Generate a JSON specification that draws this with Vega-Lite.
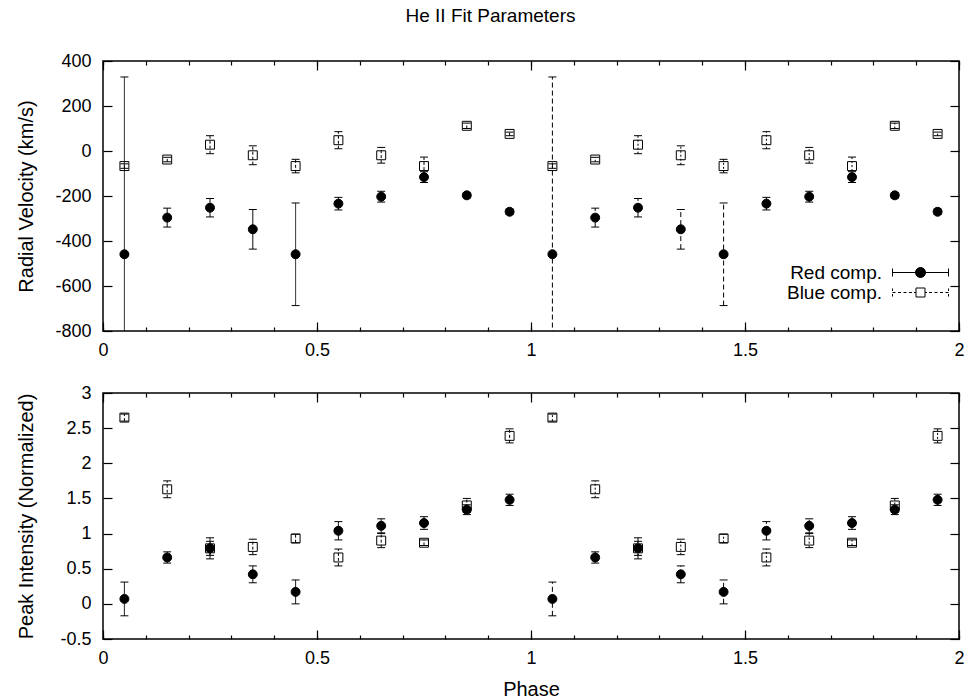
{
  "$schema": "https://vega.github.io/schema/vega-lite/v6.json",
  "background": "white",
  "padding": {"left": 16, "top": 7, "right": 5, "bottom": 5},
  "title": {"text": "He II Fit Parameters", "fontSize": 19, "fontWeight": "normal", "font": "Liberation Sans", "color": "black", "offset": 25, "anchor": "middle", "frame": "bounds"},
  "config": {
    "font": "Liberation Sans",
    "view": {"stroke": "black", "strokeWidth": 1.5},
    "axis": {"grid": false, "domain": false, "labelFontSize": 18, "titleFontSize": 20, "titleFontWeight": "normal", "labelColor": "black", "titleColor": "black", "tickColor": "black", "tickWidth": 1.2, "labelFlush": false, "labelOverlap": false},
    "legend": {"labelFontSize": 19, "labelColor": "black"}
  },
  "datasets": {
    "vel": [
      {"phase": 0.05, "comp": "Red comp.", "series": "r1", "v": -459, "lo": -1247, "hi": 329},
      {"phase": 0.15, "comp": "Red comp.", "series": "r1", "v": -296, "lo": -338, "hi": -254},
      {"phase": 0.25, "comp": "Red comp.", "series": "r1", "v": -252, "lo": -293, "hi": -211},
      {"phase": 0.35, "comp": "Red comp.", "series": "r1", "v": -348, "lo": -436, "hi": -260},
      {"phase": 0.45, "comp": "Red comp.", "series": "r1", "v": -459, "lo": -687, "hi": -231},
      {"phase": 0.55, "comp": "Red comp.", "series": "r1", "v": -234, "lo": -262, "hi": -206},
      {"phase": 0.65, "comp": "Red comp.", "series": "r1", "v": -203, "lo": -227, "hi": -179},
      {"phase": 0.75, "comp": "Red comp.", "series": "r1", "v": -116, "lo": -140, "hi": -92},
      {"phase": 0.85, "comp": "Red comp.", "series": "r1", "v": -197, "lo": -209, "hi": -185},
      {"phase": 0.95, "comp": "Red comp.", "series": "r1", "v": -270, "lo": -282, "hi": -258},
      {"phase": 1.05, "comp": "Red comp.", "series": "r2", "v": -459, "lo": -1247, "hi": 329},
      {"phase": 1.15, "comp": "Red comp.", "series": "r2", "v": -296, "lo": -338, "hi": -254},
      {"phase": 1.25, "comp": "Red comp.", "series": "r2", "v": -252, "lo": -293, "hi": -211},
      {"phase": 1.35, "comp": "Red comp.", "series": "r2", "v": -348, "lo": -436, "hi": -260},
      {"phase": 1.45, "comp": "Red comp.", "series": "r2", "v": -459, "lo": -687, "hi": -231},
      {"phase": 1.55, "comp": "Red comp.", "series": "r2", "v": -234, "lo": -262, "hi": -206},
      {"phase": 1.65, "comp": "Red comp.", "series": "r2", "v": -203, "lo": -227, "hi": -179},
      {"phase": 1.75, "comp": "Red comp.", "series": "r2", "v": -116, "lo": -140, "hi": -92},
      {"phase": 1.85, "comp": "Red comp.", "series": "r2", "v": -197, "lo": -209, "hi": -185},
      {"phase": 1.95, "comp": "Red comp.", "series": "r2", "v": -270, "lo": -282, "hi": -258},
      {"phase": 0.05, "comp": "Blue comp.", "series": "b1", "v": -67, "lo": -77, "hi": -57},
      {"phase": 0.15, "comp": "Blue comp.", "series": "b1", "v": -38, "lo": -48, "hi": -28},
      {"phase": 0.25, "comp": "Blue comp.", "series": "b1", "v": 28, "lo": -12, "hi": 68},
      {"phase": 0.35, "comp": "Blue comp.", "series": "b1", "v": -19, "lo": -61, "hi": 23},
      {"phase": 0.45, "comp": "Blue comp.", "series": "b1", "v": -67, "lo": -97, "hi": -37},
      {"phase": 0.55, "comp": "Blue comp.", "series": "b1", "v": 48, "lo": 10, "hi": 86},
      {"phase": 0.65, "comp": "Blue comp.", "series": "b1", "v": -19, "lo": -54, "hi": 16},
      {"phase": 0.75, "comp": "Blue comp.", "series": "b1", "v": -67, "lo": -107, "hi": -27},
      {"phase": 0.85, "comp": "Blue comp.", "series": "b1", "v": 112, "lo": 100, "hi": 124},
      {"phase": 0.95, "comp": "Blue comp.", "series": "b1", "v": 76, "lo": 68, "hi": 84},
      {"phase": 1.05, "comp": "Blue comp.", "series": "b2", "v": -67, "lo": -77, "hi": -57},
      {"phase": 1.15, "comp": "Blue comp.", "series": "b2", "v": -38, "lo": -48, "hi": -28},
      {"phase": 1.25, "comp": "Blue comp.", "series": "b2", "v": 28, "lo": -12, "hi": 68},
      {"phase": 1.35, "comp": "Blue comp.", "series": "b2", "v": -19, "lo": -61, "hi": 23},
      {"phase": 1.45, "comp": "Blue comp.", "series": "b2", "v": -67, "lo": -97, "hi": -37},
      {"phase": 1.55, "comp": "Blue comp.", "series": "b2", "v": 48, "lo": 10, "hi": 86},
      {"phase": 1.65, "comp": "Blue comp.", "series": "b2", "v": -19, "lo": -54, "hi": 16},
      {"phase": 1.75, "comp": "Blue comp.", "series": "b2", "v": -67, "lo": -107, "hi": -27},
      {"phase": 1.85, "comp": "Blue comp.", "series": "b2", "v": 112, "lo": 100, "hi": 124},
      {"phase": 1.95, "comp": "Blue comp.", "series": "b2", "v": 76, "lo": 68, "hi": 84}
    ],
    "inten": [
      {"phase": 0.05, "comp": "Red comp.", "series": "r1", "v": 0.07, "lo": -0.17, "hi": 0.31},
      {"phase": 0.15, "comp": "Red comp.", "series": "r1", "v": 0.66, "lo": 0.58, "hi": 0.74},
      {"phase": 0.25, "comp": "Red comp.", "series": "r1", "v": 0.79, "lo": 0.64, "hi": 0.94},
      {"phase": 0.35, "comp": "Red comp.", "series": "r1", "v": 0.42, "lo": 0.30, "hi": 0.54},
      {"phase": 0.45, "comp": "Red comp.", "series": "r1", "v": 0.17, "lo": 0.00, "hi": 0.34},
      {"phase": 0.55, "comp": "Red comp.", "series": "r1", "v": 1.04, "lo": 0.91, "hi": 1.17},
      {"phase": 0.65, "comp": "Red comp.", "series": "r1", "v": 1.11, "lo": 1.01, "hi": 1.21},
      {"phase": 0.75, "comp": "Red comp.", "series": "r1", "v": 1.15, "lo": 1.06, "hi": 1.24},
      {"phase": 0.85, "comp": "Red comp.", "series": "r1", "v": 1.34, "lo": 1.27, "hi": 1.41},
      {"phase": 0.95, "comp": "Red comp.", "series": "r1", "v": 1.48, "lo": 1.40, "hi": 1.56},
      {"phase": 1.05, "comp": "Red comp.", "series": "r2", "v": 0.07, "lo": -0.17, "hi": 0.31},
      {"phase": 1.15, "comp": "Red comp.", "series": "r2", "v": 0.66, "lo": 0.58, "hi": 0.74},
      {"phase": 1.25, "comp": "Red comp.", "series": "r2", "v": 0.79, "lo": 0.64, "hi": 0.94},
      {"phase": 1.35, "comp": "Red comp.", "series": "r2", "v": 0.42, "lo": 0.30, "hi": 0.54},
      {"phase": 1.45, "comp": "Red comp.", "series": "r2", "v": 0.17, "lo": 0.00, "hi": 0.34},
      {"phase": 1.55, "comp": "Red comp.", "series": "r2", "v": 1.04, "lo": 0.91, "hi": 1.17},
      {"phase": 1.65, "comp": "Red comp.", "series": "r2", "v": 1.11, "lo": 1.01, "hi": 1.21},
      {"phase": 1.75, "comp": "Red comp.", "series": "r2", "v": 1.15, "lo": 1.06, "hi": 1.24},
      {"phase": 1.85, "comp": "Red comp.", "series": "r2", "v": 1.34, "lo": 1.27, "hi": 1.41},
      {"phase": 1.95, "comp": "Red comp.", "series": "r2", "v": 1.48, "lo": 1.40, "hi": 1.56},
      {"phase": 0.05, "comp": "Blue comp.", "series": "b1", "v": 2.65, "lo": 2.60, "hi": 2.70},
      {"phase": 0.15, "comp": "Blue comp.", "series": "b1", "v": 1.63, "lo": 1.51, "hi": 1.75},
      {"phase": 0.25, "comp": "Blue comp.", "series": "b1", "v": 0.79, "lo": 0.69, "hi": 0.89},
      {"phase": 0.35, "comp": "Blue comp.", "series": "b1", "v": 0.81, "lo": 0.70, "hi": 0.92},
      {"phase": 0.45, "comp": "Blue comp.", "series": "b1", "v": 0.93, "lo": 0.87, "hi": 0.99},
      {"phase": 0.55, "comp": "Blue comp.", "series": "b1", "v": 0.66, "lo": 0.54, "hi": 0.78},
      {"phase": 0.65, "comp": "Blue comp.", "series": "b1", "v": 0.90, "lo": 0.80, "hi": 1.00},
      {"phase": 0.75, "comp": "Blue comp.", "series": "b1", "v": 0.87, "lo": 0.83, "hi": 0.91},
      {"phase": 0.85, "comp": "Blue comp.", "series": "b1", "v": 1.40, "lo": 1.30, "hi": 1.50},
      {"phase": 0.95, "comp": "Blue comp.", "series": "b1", "v": 2.39, "lo": 2.29, "hi": 2.49},
      {"phase": 1.05, "comp": "Blue comp.", "series": "b2", "v": 2.65, "lo": 2.60, "hi": 2.70},
      {"phase": 1.15, "comp": "Blue comp.", "series": "b2", "v": 1.63, "lo": 1.51, "hi": 1.75},
      {"phase": 1.25, "comp": "Blue comp.", "series": "b2", "v": 0.79, "lo": 0.69, "hi": 0.89},
      {"phase": 1.35, "comp": "Blue comp.", "series": "b2", "v": 0.81, "lo": 0.70, "hi": 0.92},
      {"phase": 1.45, "comp": "Blue comp.", "series": "b2", "v": 0.93, "lo": 0.87, "hi": 0.99},
      {"phase": 1.55, "comp": "Blue comp.", "series": "b2", "v": 0.66, "lo": 0.54, "hi": 0.78},
      {"phase": 1.65, "comp": "Blue comp.", "series": "b2", "v": 0.90, "lo": 0.80, "hi": 1.00},
      {"phase": 1.75, "comp": "Blue comp.", "series": "b2", "v": 0.87, "lo": 0.83, "hi": 0.91},
      {"phase": 1.85, "comp": "Blue comp.", "series": "b2", "v": 1.40, "lo": 1.30, "hi": 1.50},
      {"phase": 1.95, "comp": "Blue comp.", "series": "b2", "v": 2.39, "lo": 2.29, "hi": 2.49}
    ]
  },
  "spacing": 62,
  "bounds": "flush",
  "resolve": {"scale": {"shape": "independent", "fill": "independent", "stroke": "independent", "strokeDash": "independent"}, "legend": {"shape": "independent", "fill": "independent", "stroke": "independent"}},
  "vconcat": [
    {
      "width": 856,
      "height": 270,
      "data": {"name": "vel"},
      "resolve": {"axis": {"x": "independent", "y": "independent"}, "scale": {"shape": "independent", "fill": "independent", "stroke": "independent"}, "legend": {"shape": "independent", "fill": "independent", "stroke": "independent"}},
      "layer": [
        {
          "mark": {"type": "rule", "clip": true, "color": "black", "strokeWidth": 1},
          "encoding": {
            "x": {"field": "phase", "type": "quantitative", "scale": {"domain": [0, 2], "nice": false, "zero": false},
                  "axis": {"orient": "bottom", "title": null, "values": [0,0.1,0.2,0.3,0.4,0.5,0.6,0.7,0.8,0.9,1,1.1,1.2,1.3,1.4,1.5,1.6,1.7,1.8,1.9,2], "tickSize": -4, "labelPadding": 14, "labelExpr": "abs(datum.value*2 - round(datum.value*2)) < 0.001 ? ('' + datum.value) : ''"}},
            "y": {"field": "lo", "type": "quantitative", "scale": {"domain": [-800, 400], "nice": false, "zero": false},
                  "axis": {"orient": "left", "title": "Radial Velocity (km/s)", "values": [-800,-600,-400,-200,0,200,400], "tickSize": -9, "labelPadding": 21, "titlePadding": 18, "labelExpr": "'' + datum.value"}},
            "y2": {"field": "hi"},
            "strokeDash": {"field": "series", "type": "nominal", "scale": {"domain": ["r1", "b1", "r2", "b2"], "range": [[1, 0], [3, 2], [5, 3], [2, 2]]}, "legend": null}
          }
        },
        {
          "mark": {"type": "tick", "orient": "horizontal", "clip": true, "color": "black", "size": 8, "thickness": 1, "opacity": 1},
          "encoding": {
            "x": {"field": "phase", "type": "quantitative", "axis": {"orient": "bottom", "title": null, "values": [0, 0.5, 1, 1.5, 2], "tickSize": -9, "labels": false}},
            "y": {"field": "lo", "type": "quantitative", "axis": {"orient": "right", "title": null, "values": [-800,-600,-400,-200,0,200,400], "tickSize": -9, "labels": false}}
          }
        },
        {
          "mark": {"type": "tick", "orient": "horizontal", "clip": true, "color": "black", "size": 8, "thickness": 1, "opacity": 1},
          "encoding": {
            "x": {"field": "phase", "type": "quantitative", "axis": {"orient": "top", "title": null, "values": [0,0.1,0.2,0.3,0.4,0.5,0.6,0.7,0.8,0.9,1,1.1,1.2,1.3,1.4,1.5,1.6,1.7,1.8,1.9,2], "tickSize": -4, "labels": false}},
            "y": {"field": "hi", "type": "quantitative", "axis": null}
          }
        },
        {
          "mark": {"type": "point", "clip": true, "stroke": "black", "strokeWidth": 1, "opacity": 1, "size": 80},
          "encoding": {
            "x": {"field": "phase", "type": "quantitative", "axis": {"orient": "top", "title": null, "values": [0, 0.5, 1, 1.5, 2], "tickSize": -9, "labels": false}},
            "y": {"field": "v", "type": "quantitative", "axis": null},
            "shape": {"field": "comp", "type": "nominal", "scale": {"domain": ["Red comp.", "Blue comp."], "range": ["circle", "square"]}, "legend": null},
            "fill": {"field": "comp", "type": "nominal", "scale": {"domain": ["Red comp.", "Blue comp."], "range": ["black", "transparent"]}, "legend": null}
          }
        },
        {
          "transform": [{"filter": "datum.phase < 0"}],
          "mark": {"type": "point", "strokeWidth": 1, "opacity": 1, "size": 100},
          "encoding": {
            "x": {"field": "phase", "type": "quantitative", "axis": null},
            "y": {"field": "v", "type": "quantitative", "axis": null},
            "shape": {"field": "comp", "type": "nominal", "scale": {"domain": ["Red comp.", "Blue comp."], "range": ["M-5.6,0H5.6M-5.6,-0.8V0.8M5.6,-0.8V0.8M1,0A1,1 0 1,1 -1,0A1,1 0 1,1 1,0Z", "M-5.6,0H-5.0M-4.5,0H-3.9M-3.4,0H-2.8M-2.3,0H-1.7M-1.3,0H-0.9M0.9,0H1.3M1.7,0H2.3M2.8,0H3.4M3.9,0H4.5M5.0,0H5.6M-5.6,-0.8V-0.3M-5.6,0.3V0.8M5.6,-0.8V-0.3M5.6,0.3V0.8M-0.9,-0.9H0.9V0.9H-0.9Z"]},
                      "legend": {"title": null, "orient": "none", "legendX": 808, "legendY": 202, "labelAlign": "right", "labelOffset": -48, "rowPadding": 0, "symbolSize": 100, "symbolStrokeColor": "black", "symbolStrokeWidth": 1}},
            "fill": {"field": "comp", "type": "nominal", "scale": {"domain": ["Red comp.", "Blue comp."], "range": ["black", "transparent"]},
                     "legend": {"title": null, "orient": "none", "legendX": 808, "legendY": 202, "labelAlign": "right", "labelOffset": -48, "rowPadding": 0, "symbolSize": 100, "symbolStrokeColor": "black", "symbolStrokeWidth": 1}},
            "stroke": {"field": "comp", "type": "nominal", "scale": {"domain": ["Red comp.", "Blue comp."], "range": ["black", "black"]},
                     "legend": {"title": null, "orient": "none", "legendX": 808, "legendY": 202, "labelAlign": "right", "labelOffset": -48, "rowPadding": 0, "symbolSize": 100, "symbolStrokeColor": "black", "symbolStrokeWidth": 1}}
          }
        }
      ]
    },
    {
      "width": 856,
      "height": 246,
      "data": {"name": "inten"},
      "resolve": {"axis": {"x": "independent", "y": "independent"}},
      "layer": [
        {
          "mark": {"type": "rule", "clip": true, "color": "black", "strokeWidth": 1},
          "encoding": {
            "x": {"field": "phase", "type": "quantitative", "scale": {"domain": [0, 2], "nice": false, "zero": false},
                  "axis": {"orient": "bottom", "title": "Phase", "titlePadding": 12, "values": [0,0.1,0.2,0.3,0.4,0.5,0.6,0.7,0.8,0.9,1,1.1,1.2,1.3,1.4,1.5,1.6,1.7,1.8,1.9,2], "tickSize": -4, "labelPadding": 14, "labelExpr": "abs(datum.value*2 - round(datum.value*2)) < 0.001 ? ('' + datum.value) : ''"}},
            "y": {"field": "lo", "type": "quantitative", "scale": {"domain": [-0.5, 3], "nice": false, "zero": false},
                  "axis": {"orient": "left", "title": "Peak Intensity (Normalized)", "values": [-0.5,0,0.5,1,1.5,2,2.5,3], "tickSize": -9, "labelPadding": 21, "titlePadding": 23, "labelExpr": "'' + datum.value"}},
            "y2": {"field": "hi"},
            "strokeDash": {"field": "series", "type": "nominal", "scale": {"domain": ["r1", "b1", "r2", "b2"], "range": [[1, 0], [3, 2], [5, 3], [2, 2]]}, "legend": null}
          }
        },
        {
          "mark": {"type": "tick", "orient": "horizontal", "clip": true, "color": "black", "size": 8, "thickness": 1, "opacity": 1},
          "encoding": {
            "x": {"field": "phase", "type": "quantitative", "axis": {"orient": "bottom", "title": null, "values": [0, 0.5, 1, 1.5, 2], "tickSize": -9, "labels": false}},
            "y": {"field": "lo", "type": "quantitative", "axis": {"orient": "right", "title": null, "values": [-0.5,0,0.5,1,1.5,2,2.5,3], "tickSize": -9, "labels": false}}
          }
        },
        {
          "mark": {"type": "tick", "orient": "horizontal", "clip": true, "color": "black", "size": 8, "thickness": 1, "opacity": 1},
          "encoding": {
            "x": {"field": "phase", "type": "quantitative", "axis": {"orient": "top", "title": null, "values": [0,0.1,0.2,0.3,0.4,0.5,0.6,0.7,0.8,0.9,1,1.1,1.2,1.3,1.4,1.5,1.6,1.7,1.8,1.9,2], "tickSize": -4, "labels": false}},
            "y": {"field": "hi", "type": "quantitative", "axis": null}
          }
        },
        {
          "mark": {"type": "point", "clip": true, "stroke": "black", "strokeWidth": 1, "opacity": 1, "size": 80},
          "encoding": {
            "x": {"field": "phase", "type": "quantitative", "axis": {"orient": "top", "title": null, "values": [0, 0.5, 1, 1.5, 2], "tickSize": -9, "labels": false}},
            "y": {"field": "v", "type": "quantitative", "axis": null},
            "shape": {"field": "comp", "type": "nominal", "scale": {"domain": ["Red comp.", "Blue comp."], "range": ["circle", "square"]}, "legend": null},
            "fill": {"field": "comp", "type": "nominal", "scale": {"domain": ["Red comp.", "Blue comp."], "range": ["black", "transparent"]}, "legend": null}
          }
        }
      ]
    }
  ]
}
